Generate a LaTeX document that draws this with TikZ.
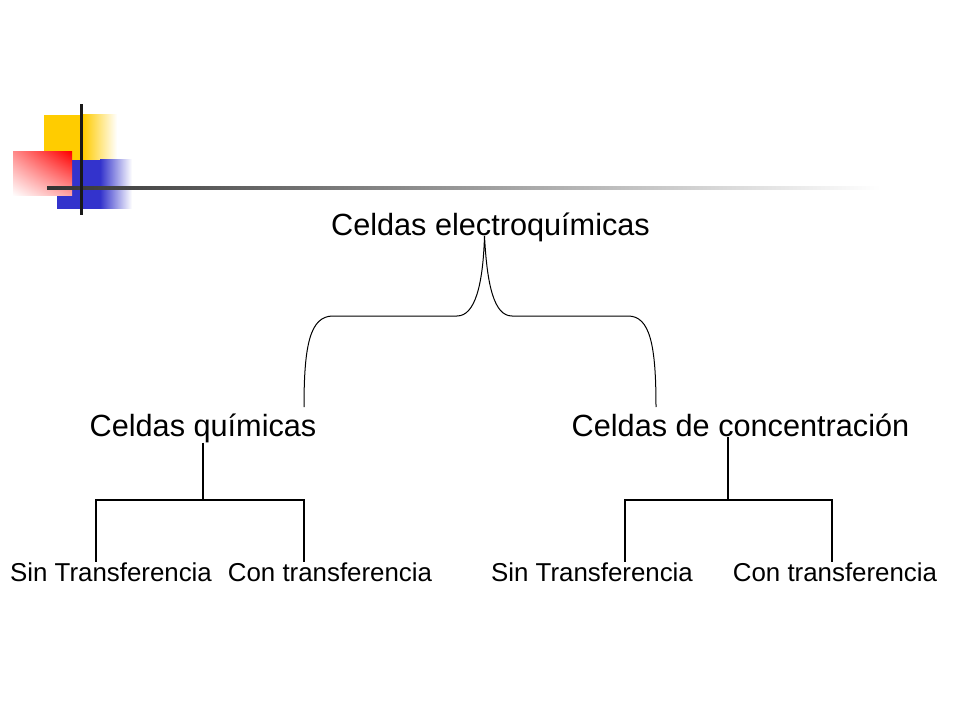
\documentclass[tikz,border=0pt]{standalone}
\usepackage{fontspec}
\setmainfont{Liberation Sans}
\usepackage{tikz}
\usetikzlibrary{positioning, calc, shadings}
\definecolor{deco_yellow}{HTML}{FFCC00}
\definecolor{deco_blue}{HTML}{3333CC}
\definecolor{deco_line}{HTML}{333333}

\begin{document}
\begin{tikzpicture}[x=0.75pt, y=-0.75pt,
        main/.style = {
            anchor = base,
            inner sep = 0pt,
            font = \fontsize{23}{27}\selectfont
        },
        leaf/.style = {
            anchor = base,
            inner sep = 0pt,
            font = \fontsize{19.4}{23}\selectfont
        },
        link/.style = {
            draw,
            line width = 0.8pt
        }  ]

        \useasboundingbox (0,0) rectangle (960,720);

        % decoration
        \fill[deco_yellow] (44,115) rectangle (83,160);
        \shade[left color=deco_yellow, right color=white] (83,115) rectangle (117,160);
        \fill[deco_blue] (57,160) rectangle (100,209);
        \shade[left color=deco_blue, right color=white] (100,160) rectangle (132,209);
        \shade[upper right=red, upper left=red!45, lower right=red!35, lower left=white] (13,152) rectangle (72,196);
        \shade[left color=deco_line, right color=white] (47,186.5) rectangle (880,189.5);
        \fill[black!90] (79.5,104) rectangle (82.5,215);

        \node (cells) [main] at (490.5,236) {Celdas electroquímicas};
        \node (chem) [main] at (203,436) {Celdas químicas};
        \node (conc) [main] at (740.5,436) {Celdas de concentración};

        \node (chem_without) [leaf] at (111,581) {Sin Transferencia};
        \node (chem_with) [leaf] at (330,581) {Con transferencia};
        \node (conc_without) [leaf] at (592,581) {Sin Transferencia};
        \node (conc_with) [leaf] at (835,581) {Con transferencia};

        \coordinate (tip) at ($(cells.base)+(-6,0)$);
        \coordinate (brace_left) at (304,407);
        \coordinate (brace_right) at (656,407);

        \coordinate (chem_left) at (96,500);
        \coordinate (chem_right) at (304,500);
        \coordinate (conc_mid) at (728,500);
        \coordinate (conc_left) at (625,500);
        \coordinate (conc_right) at (832,500);

        \draw[line width=0.75pt] (brace_left) .. controls (304,345) and (310,316) .. (333,316)
            -- (457,316) .. controls (475,316) and (483,285) .. (tip)
            .. controls (487,285) and (494,316) .. (512,316)
            -- (628,316) .. controls (650,316) and (656,345) .. (brace_right);

        \draw[link] (chem.south) -- (chem.south |- chem_left);
        \draw[link] (chem_left |- chem_without.north) -- (chem_left) -- (chem_right) -- (chem_right |- chem_with.north);
        \draw[link] (conc_mid |- conc.south) -- (conc_mid);
        \draw[link] (conc_left |- conc_without.north) -- (conc_left) -- (conc_right) -- (conc_right |- conc_with.north);
    \end{tikzpicture}
\end{document}
